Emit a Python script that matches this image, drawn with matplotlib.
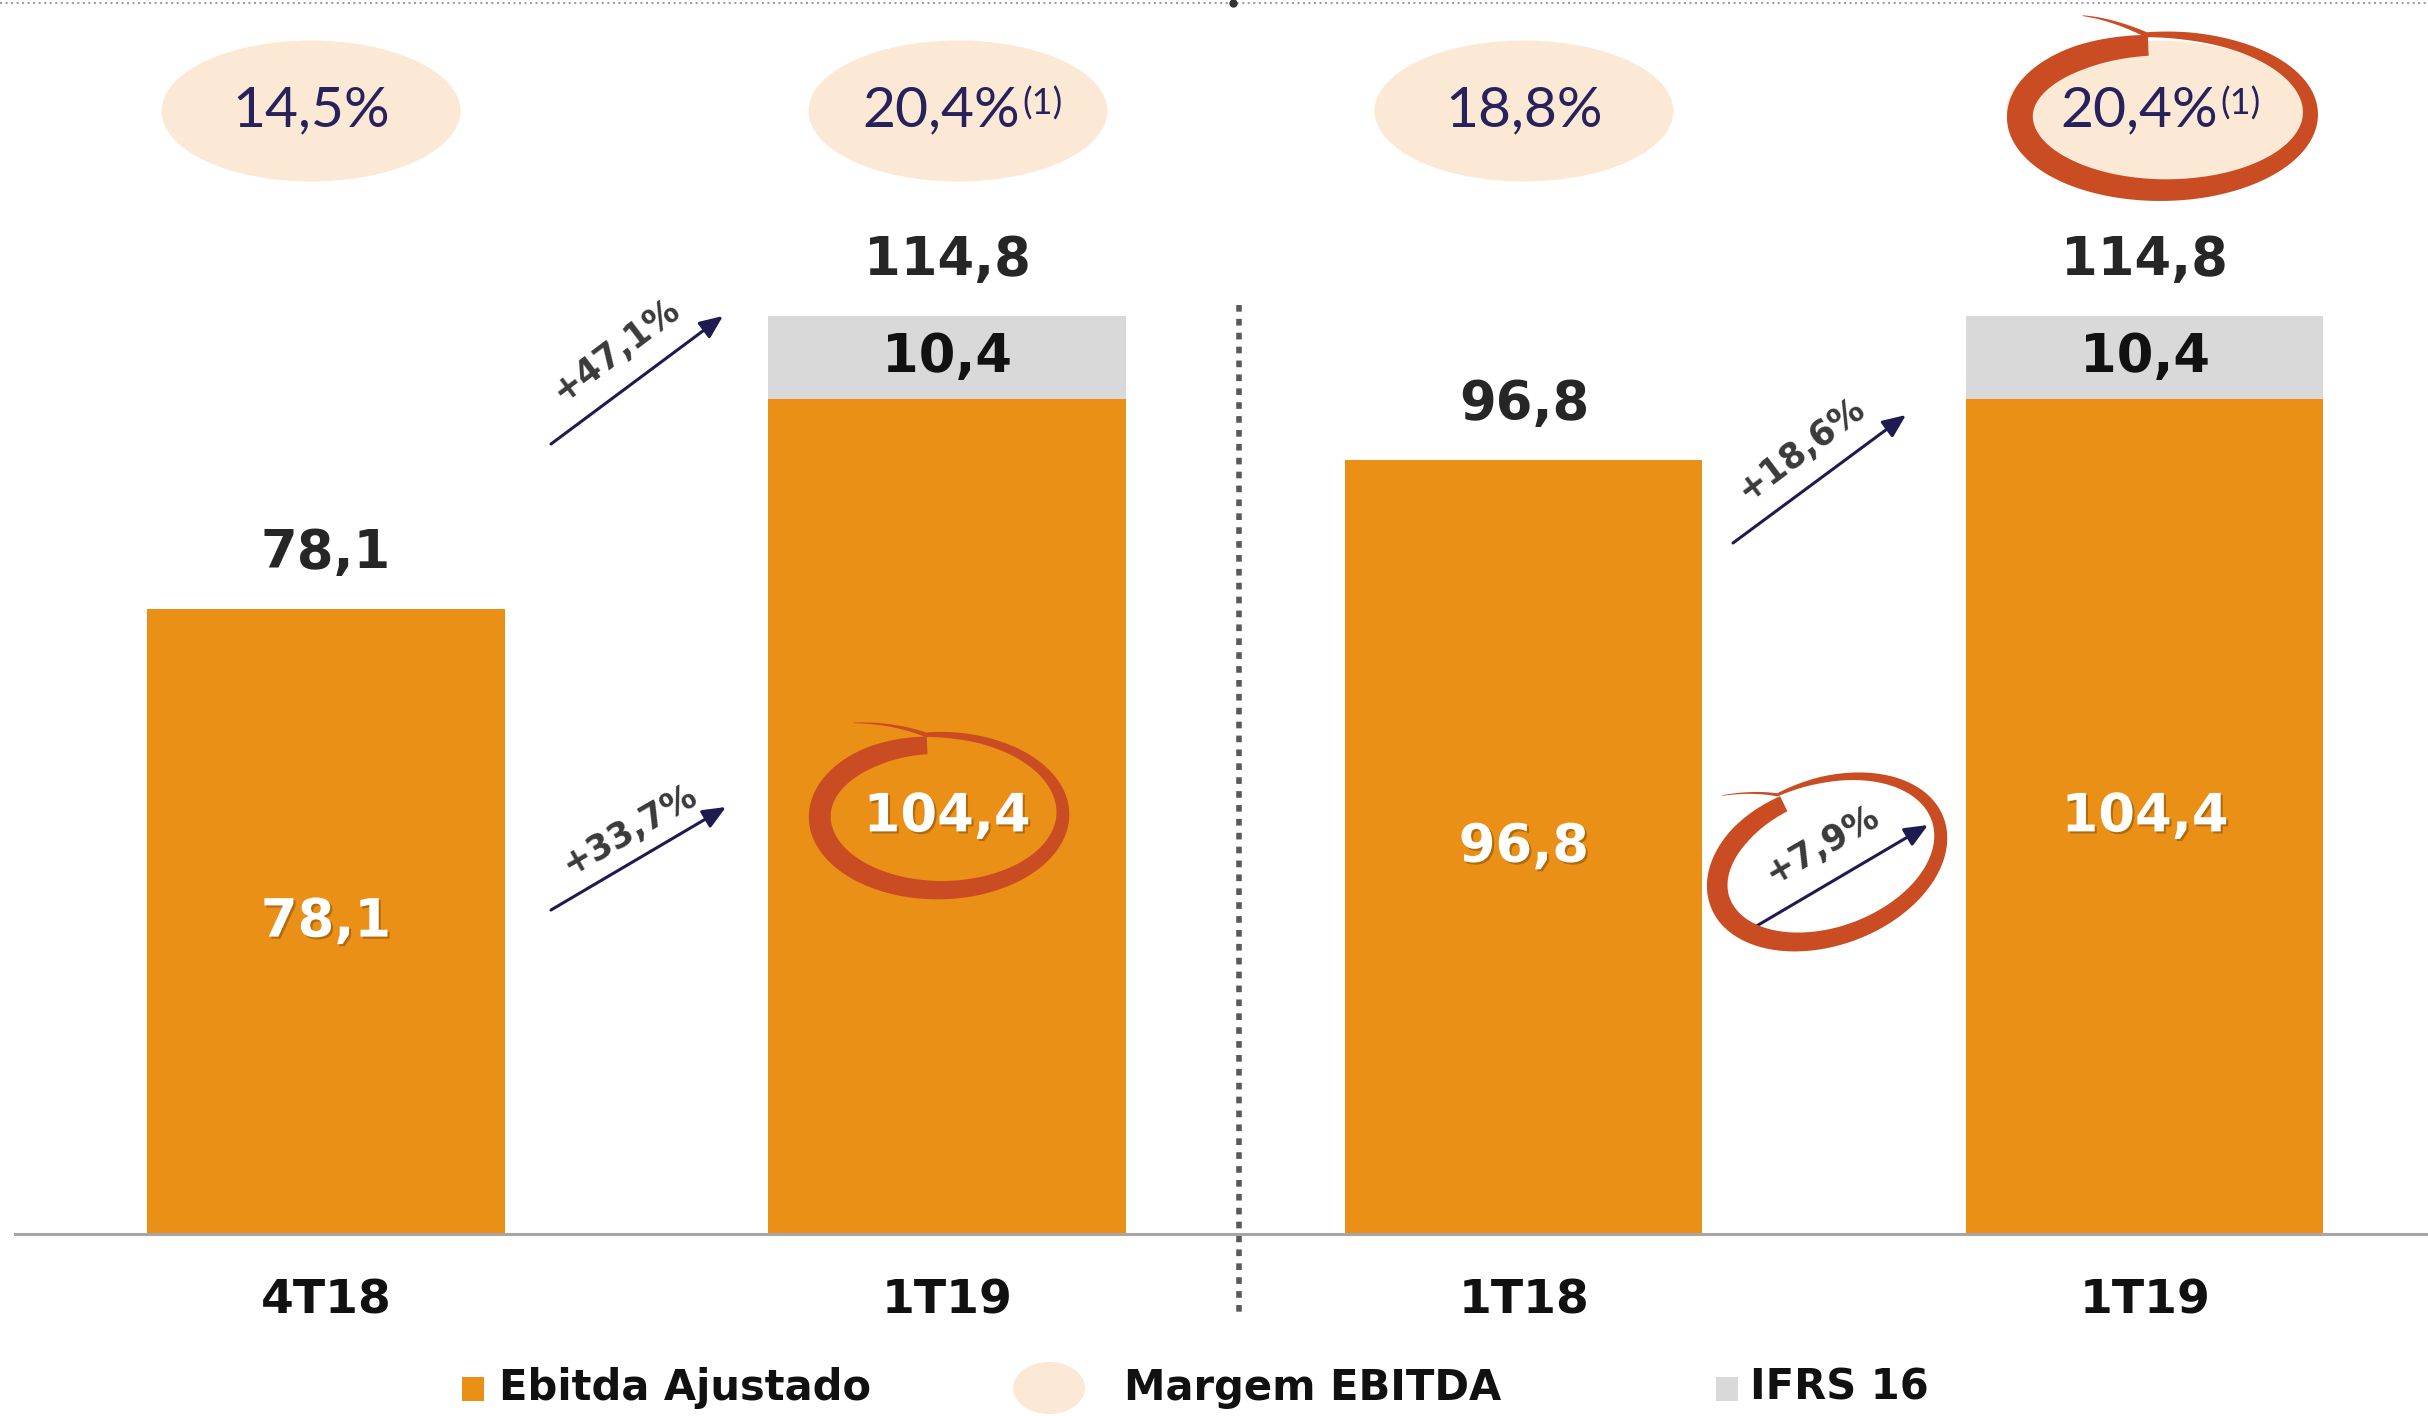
import numpy as np
import matplotlib.pyplot as plt
from matplotlib.patches import Ellipse, Polygon, Rectangle
import matplotlib.patheffects as pe

# dados (R$ milhões)
periodos = ['4T18', '1T19', '1T18', '1T19']
ebitda_ajustado = [78.1, 104.4, 96.8, 104.4]
ifrs16 = [0.0, 10.4, 0.0, 10.4]
margem = [14.5, 20.4, 18.8, 20.4]
margem_nota = ['', '(1)', '', '(1)']
crescimento = [47.1, 33.7, 18.6, 7.9]

ORANGE = '#EB9017'
GRAY = '#D9D9D9'
PEACH = '#FBE9D5'
NAVY = '#28225C'
RED = '#C94C23'

W, H = 2428, 1416
X0_PX, UX = 326, 621.0      # pixel of x=0, pixels per x unit
BASE_PX, UY = 1234, 8.0     # pixel of y=0, pixels per y unit


def to_data(xp, yp):
    return ((xp - X0_PX) / UX, (BASE_PX - yp) / UY)


def fmt(v):
    return f'{v:.1f}'.replace('.', ',')


fig = plt.figure(figsize=(W / 100, H / 100), dpi=100)
ax = fig.add_axes([0, 0, 1, 1])
ax.set_xlim(-X0_PX / UX, (W - X0_PX) / UX)
ax.set_ylim((BASE_PX - H) / UY, BASE_PX / UY)
ax.axis('off')

xpos = [0, 1, 1.929, 2.929]
bw = 0.575
elip_dx = [-15, 11, 0, 11]   # deslocamento das elipses (px)

ax.bar(xpos, ebitda_ajustado, width=bw, color=ORANGE, zorder=2)
ax.bar(xpos, ifrs16, bottom=ebitda_ajustado, width=bw, color=GRAY, zorder=2)

# linha de base
ax.plot([to_data(15, 0)[0], ax.get_xlim()[1]], [0, 0], color='#A6A6A6', lw=2.2, zorder=3)

# linha pontilhada do topo
ytop = to_data(0, 3)[1]
ax.plot(ax.get_xlim(), [ytop, ytop], color='#A0A0A0', lw=1.5, ls=':', zorder=1)
ax.plot([to_data(1233, 0)[0]], [ytop], 'o', color='#333333', ms=5)

# divisor
xd = to_data(1239, 0)[0]
ax.plot([xd, xd], [to_data(0, 305)[1], to_data(0, 1313)[1]], color='#595959',
        lw=4, dashes=(1.2, 1.3), zorder=1)

shadow = [pe.SimplePatchShadow(offset=(1.5, -1.5), shadow_rgbFace='#6b3d00', alpha=0.45), pe.Normal()]

for x, e, i, m, nota, p, odx in zip(xpos, ebitda_ajustado, ifrs16, margem, margem_nota,
                                    periodos, elip_dx):
    total = e + i
    ax.text(x, total + 7, fmt(total), ha='center', va='center', fontsize=38,
            fontweight='bold', color='#262626', zorder=4)
    ax.text(x, e / 2, fmt(e), ha='center', va='center', fontsize=38,
            fontweight='bold', color='white', zorder=4, path_effects=shadow)
    if i > 0:
        ax.text(x, e + i / 2, fmt(i), ha='center', va='center', fontsize=38,
                fontweight='bold', color='#111111', zorder=4)
    ax.text(x, -8.4, p, ha='center', va='center', fontsize=34, fontweight='bold',
            color='#111111')
    # margem
    ex = x + odx / UX
    ey = to_data(0, 111)[1]
    ax.add_patch(Ellipse((ex, ey), 299 / UX, 141 / UY, color=PEACH, zorder=2, lw=0))
    dx = -17 / UX if nota else 0
    t = ax.text(ex + dx, ey, fmt(m) + '%', ha='center', va='center', fontsize=41,
                family='Lato', color=NAVY, zorder=6)
    if nota:
        ax.annotate(nota, xy=(1, 0.97), xycoords=t, xytext=(2, 0), textcoords='offset points',
                    ha='left', va='top', fontsize=26, family='Lato', color=NAVY, zorder=6)

# setas de crescimento
setas = [((551, 444), (723, 316), (616, 350), 37),
         ((551, 910), (726, 807), (630, 830), 30),
         ((1733, 543), (1906, 415), (1801, 449), 37),
         ((1748, 931), (1928, 825), (1822, 845), 30)]
for (s, e, tp, rot), g in zip(setas, crescimento):
    ax.annotate('', xy=to_data(*e), xytext=to_data(*s),
                arrowprops=dict(arrowstyle='-|>,head_length=0.7,head_width=0.3',
                                color='#1F1A4F', lw=2.2, shrinkA=0, shrinkB=0,
                                mutation_scale=20), zorder=5)
    ax.text(*to_data(*tp), f'+{fmt(g)}%', rotation=rot, rotation_mode='anchor',
            ha='center', va='center', fontsize=25, fontweight='bold', color='#3A3A3A', zorder=5)


def scribble(cx, cy, a, b, rot, th0, th_end, wmax, rx_end, ry_end):
    th = np.radians(np.linspace(th0, th_end, 400))
    t0, loop = np.radians(th0), np.radians(th0 + 360)
    frac = np.clip((th - t0) / (loop - t0), 0, 1)
    tail = np.clip((th - loop) / (np.radians(th_end) - loop), 0, 1)
    r = 0.92 + 0.14 * frac
    rx = r + (rx_end - 1.06) * tail
    ry = r + (ry_end - 1.06) * tail
    x = a * rx * np.cos(th)
    y = b * ry * np.sin(th)
    c, s = np.cos(np.radians(rot)), np.sin(np.radians(rot))
    xr, yr = x * c - y * s, x * s + y * c
    u = np.linspace(0, 1, len(th))
    w = wmax * np.interp(u, [0, .08, .25, .5, .72, .9, 1], [.8, .95, 1, .8, .55, .3, .03])
    gx, gy = np.gradient(xr), np.gradient(yr)
    n = np.hypot(gx, gy)
    nx, ny = -gy / n, gx / n
    lx, ly = xr + nx * w / 2, yr + ny * w / 2
    qx, qy = xr - nx * w / 2, yr - ny * w / 2
    px = np.concatenate([lx, qx[::-1]]) + cx
    py = cy - np.concatenate([ly, qy[::-1]])
    pts = np.column_stack([(px - X0_PX) / UX, (BASE_PX - py) / UY])
    ax.add_patch(Polygon(pts, closed=True, color=RED, lw=0, zorder=7))


scribble(937, 815, 123, 76, 0, 95, 480, 22, 1.36, 1.40)
scribble(1825, 862, 118, 76, 20, 100, 476, 21, 1.43, 1.43)
scribble(2160, 115, 147, 76, 0, 95, 478, 26, 1.12, 1.48)

# legenda
ly = to_data(0, 1400)[1]
ax.add_patch(Rectangle(to_data(462, 1401), 22 / UX, 24 / UY, color=ORANGE, lw=0))
ax.text(to_data(499, 0)[0], ly, 'Ebitda Ajustado', fontsize=30, fontweight='bold',
        color='#111111', va='baseline')
ax.add_patch(Ellipse(to_data(1049, 1388), 72 / UX, 52 / UY, color=PEACH, lw=0))
ax.text(to_data(1124, 0)[0], ly, 'Margem EBITDA', fontsize=30, fontweight='bold',
        color='#111111', va='baseline')
ax.add_patch(Rectangle(to_data(1716, 1401), 22 / UX, 24 / UY, color=GRAY, lw=0))
ax.text(to_data(1750, 0)[0], ly, 'IFRS 16', fontsize=30, fontweight='bold',
        color='#111111', va='baseline')

fig.savefig('out.png', dpi=100)
